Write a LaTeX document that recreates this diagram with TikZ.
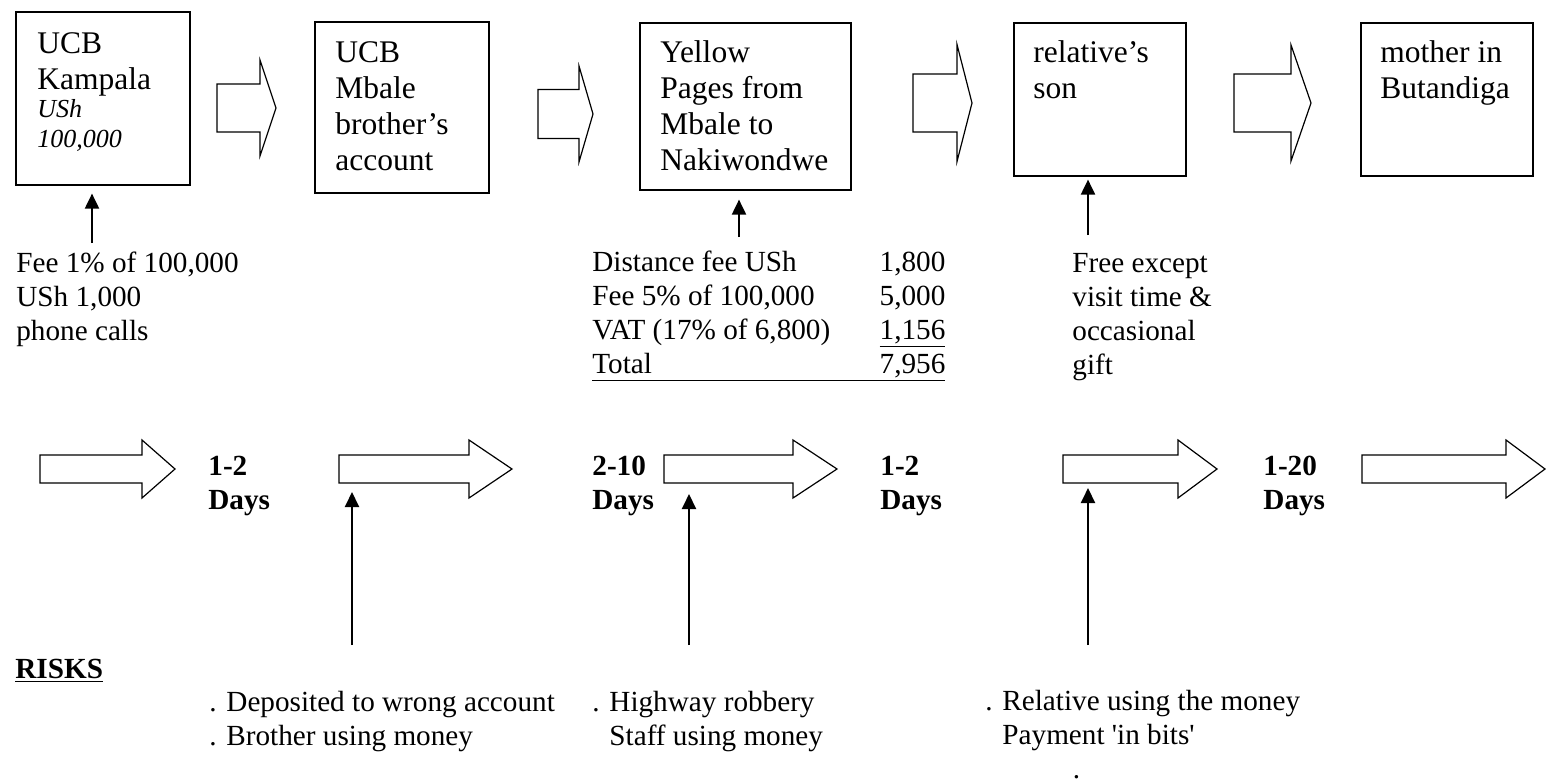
\documentclass[tikz,border=0pt]{standalone}
\usepackage{fontspec}
\setmainfont{Liberation Serif}
\usetikzlibrary{arrows.meta}

\tikzstyle{stage} = [draw, line width=0.8pt, anchor=north west, inner sep=0pt]
\tikzstyle{stagetext} = [anchor=base west, align=left, inner sep=0pt, font=\fontsize{15.75}{18}\selectfont]
\tikzstyle{note} = [anchor=base west, align=left, inner sep=0pt, font=\fontsize{14.6}{17}\selectfont]
\tikzstyle{days} = [note, font=\fontsize{14.6}{17}\selectfont\bfseries]
\tikzstyle{cost} = [line width=1pt, -{Triangle[length=7.5pt,width=7pt]}]
\tikzstyle{fat} = [draw, line width=0.6pt, line join=miter]

% open block arrow: left x, mid y, head base x, tip x, half shaft, half head, name
\newcommand{\flowarrow}[7]{%
  \draw[fat] (#1,{#2-#5}) -- (#3,{#2-#5}) -- (#3,{#2-#6}) -- (#4,#2)
    -- (#3,{#2+#6}) -- (#3,{#2+#5}) -- (#1,{#2+#5}) -- cycle;
  \coordinate (#7) at (#1,{#2+#5});}

\begin{document}
\begin{tikzpicture}[x=0.5pt, y=-0.5pt]
  \useasboundingbox (0,0) rectangle (1546,782);

  % stages of the money (text nodes sit on their last baseline)
  \node[stage, minimum width=87pt, minimum height=86.5pt] (kampala) at (15,11) {};
  \node[stage, minimum width=87pt, minimum height=85.5pt] (mbale) at (314,21) {};
  \node[stage, minimum width=105.5pt, minimum height=83.5pt] (yellow) at (639,22) {};
  \node[stage, minimum width=86pt, minimum height=76.5pt] (relson) at (1013,22) {};
  \node[stage, minimum width=86pt, minimum height=76.5pt] (mother) at (1360,22) {};

  \node[stagetext] (kampalatxt) at (37,147) {UCB\\Kampala\\[-4pt]{\fontsize{13}{15}\selectfont\itshape USh}\\[-3pt]{\fontsize{13}{15}\selectfont\itshape 100,000}};
  \node[stagetext] (mbaletxt) at (335,170) {UCB\\Mbale\\brother's\\account};
  \node[stagetext] (yellowtxt) at (660,170) {Yellow\\Pages from\\Mbale to\\Nakiwondwe};
  \node[stagetext] (relsontxt) at (1033,98) {relative's\\son};
  \node[stagetext] (mothertxt) at (1380,98) {mother in\\Butandiga};

  \flowarrow{217}{108}{260}{276}{24}{48}{a1}
  \flowarrow{538}{114}{579}{593}{24.5}{48}{a2}
  \flowarrow{913}{103}{957}{972}{29}{58.5}{a3}
  \flowarrow{1234}{103}{1291}{1311}{29}{58}{a4}

  % costs
  \node[note] (fee1) at (16,340) {Fee 1\% of 100,000\\USh 1,000\\phone calls};
  \node[note] (fee3) at (592,373) {\makebox[176.5pt]{Distance fee USh\hfill 1,800}\\
    \makebox[176.5pt]{Fee 5\% of 100,000\hfill 5,000}\\
    \makebox[176.5pt]{VAT (17\% of 6,800)\hfill\underline{1,156}}\\
    \underline{\makebox[176.5pt]{Total\hfill 7,956}}};
  \node[note] (fee4) at (1072,374) {Free except\\visit time \&\\occasional\\gift};

  \coordinate (c1) at (92,243);
  \coordinate (c3) at (739,237);
  \coordinate (c4) at (1088,235);
  \draw[cost, shorten >=4pt] (c1) -- (c1 |- kampala.south);
  \draw[cost, shorten >=4.5pt] (c3) -- (c3 |- yellow.south);
  \draw[cost, shorten >=1.5pt] (c4) -- (c4 |- relson.south);

  % time taken
  \flowarrow{40}{469}{142}{175}{14}{29}{b1}
  \flowarrow{339}{469}{469}{512}{14}{29}{b2}
  \flowarrow{664}{469}{793}{837}{14}{29}{b3}
  \flowarrow{1063}{469}{1178}{1217}{14}{29}{b4}
  \flowarrow{1362}{469}{1506}{1545}{14}{29}{b5}

  \node[days] (days1) at (208,509) {1-2\\Days};
  \node[days] (days2) at (592,509) {2-10\\Days};
  \node[days] (days3) at (880,509) {1-2\\Days};
  \node[days] (days4) at (1263,509) {1-20\\Days};

  % risks
  \node[days] (risks) at (15,678) {\underline{RISKS}};
  \node[note] (risk2) at (209,745) {. Deposited to wrong account\\. Brother using money};
  \node[note] (risk3) at (592,745) {. Highway robbery\\\phantom{. }Staff using money};
  \node[note] (risk4) at (985,778) {. Relative using the money\\\phantom{. }Payment \textquotesingle in bits\textquotesingle\\\hspace*{43.7pt}.};

  \coordinate (r2) at (352,645);
  \coordinate (r3) at (689,645);
  \coordinate (r4) at (1088,645);
  \draw[cost, shorten >=4.5pt] (r2) -- (r2 |- b2);
  \draw[cost, shorten >=5.5pt] (r3) -- (r3 |- b3);
  \draw[cost, shorten >=2.5pt] (r4) -- (r4 |- b4);
\end{tikzpicture}
\end{document}
